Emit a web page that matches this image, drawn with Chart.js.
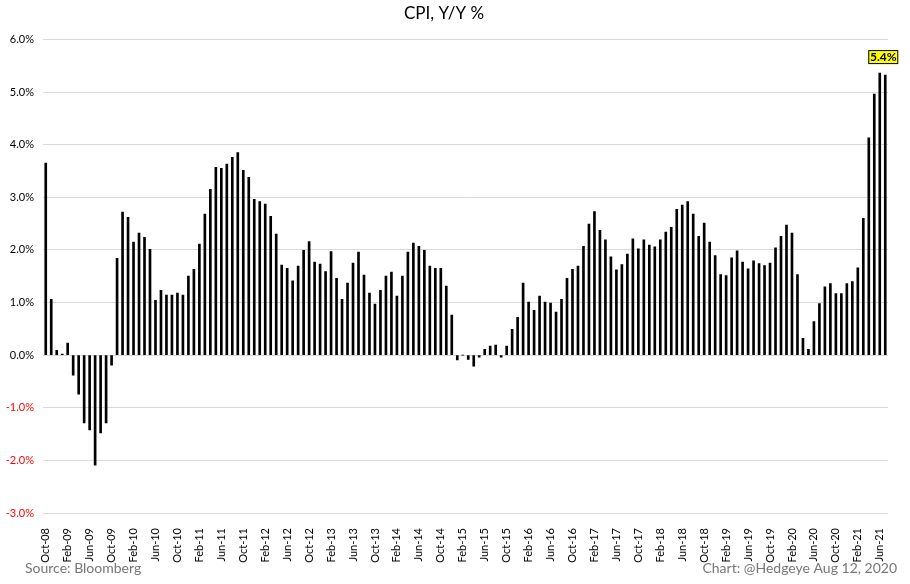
<!DOCTYPE html>
<html>
<head>
<meta charset="utf-8">
<script src="https://cdn.jsdelivr.net/npm/chart.js@4"></script>
<style>
  html, body { margin: 0; padding: 0; background: #fff; }
  #wrap { width: 910px; height: 584px; }
</style>
</head>
<body>
<div id="wrap"><canvas id="cpiChart" width="910" height="584"></canvas></div>
<script>
// --- DATA ---
const monthNames = ['Jan','Feb','Mar','Apr','May','Jun','Jul','Aug','Sep','Oct','Nov','Dec'];
const firstMonth = { year: 2008, month: 9 };   // Oct-08
const lastMonth  = { year: 2021, month: 6 };   // Jul-21

// CPI Y/Y %, monthly, Oct-08 .. Jul-21
const cpiYoY = [
  3.65, 1.06, 0.09,                                                       // 2008
  0.02, 0.23, -0.38, -0.74, -1.29, -1.42, -2.09, -1.48, -1.29, -0.19, 1.84, 2.72,   // 2009
  2.62, 2.15, 2.32, 2.24, 2.01, 1.04, 1.23, 1.14, 1.14, 1.18, 1.14, 1.50,           // 2010
  1.63, 2.11, 2.68, 3.15, 3.57, 3.55, 3.63, 3.76, 3.85, 3.51, 3.38, 2.96,           // 2011
  2.92, 2.87, 2.64, 2.30, 1.71, 1.65, 1.41, 1.69, 1.99, 2.16, 1.77, 1.73,           // 2012
  1.59, 1.97, 1.46, 1.06, 1.37, 1.75, 1.96, 1.52, 1.18, 0.97, 1.23, 1.50,           // 2013
  1.58, 1.12, 1.50, 1.96, 2.13, 2.07, 1.99, 1.69, 1.65, 1.65, 1.31, 0.76,           // 2014
  -0.09, 0.00, -0.08, -0.21, -0.04, 0.11, 0.17, 0.19, -0.04, 0.17, 0.49, 0.72,      // 2015
  1.37, 1.01, 0.85, 1.12, 1.01, 0.99, 0.82, 1.06, 1.46, 1.63, 1.69, 2.07,           // 2016
  2.49, 2.73, 2.37, 2.19, 1.87, 1.62, 1.72, 1.92, 2.21, 2.02, 2.19, 2.09,           // 2017
  2.06, 2.19, 2.34, 2.43, 2.77, 2.85, 2.92, 2.68, 2.26, 2.51, 2.15, 1.89,           // 2018
  1.53, 1.51, 1.85, 1.98, 1.77, 1.64, 1.79, 1.74, 1.70, 1.75, 2.04, 2.26,           // 2019
  2.47, 2.32, 1.53, 0.32, 0.11, 0.64, 0.98, 1.30, 1.36, 1.17, 1.17, 1.36,           // 2020
  1.40, 1.66, 2.60, 4.13, 4.96, 5.36, 5.32                                          // 2021
];

const yMin = -3, yMax = 6, yStep = 1;
const labelEvery = 4;                 // Oct-08, Feb-09, Jun-09 ...
const calloutMonth = 'Jun-21';
const calloutText = '5.4%';

const titleText = 'CPI, Y/Y %';
const sourceText = 'Source: Bloomberg';
const creditText = 'Chart: @Hedgeye Aug 12, 2020';

// build month labels "Oct-08" ...
const months = [];
for (let y = firstMonth.year, m = firstMonth.month; y < lastMonth.year || (y === lastMonth.year && m <= lastMonth.month); ) {
    months.push(monthNames[m] + '-' + String(y).slice(2));
    m++;
    if (m > 11) { m = 0; y++; }
}

const FONT = 'Lato, "Open Sans", sans-serif';

// --- PLUGINS ---
// yellow callout above the peak bar
const calloutPlugin = {
    id: 'callout',
    afterDatasetsDraw(chart) {
        const idx = months.indexOf(calloutMonth);
        const bar = chart.getDatasetMeta(0).data[idx];
        if (!bar) return;
        const ctx = chart.ctx;
        const w = 30, h = 14;
        const cx = bar.x + 3.5;
        const bottom = bar.y - 9;
        ctx.save();
        ctx.fillStyle = '#ffff00';
        ctx.strokeStyle = '#000';
        ctx.lineWidth = 1;
        ctx.fillRect(cx - w / 2, bottom - h, w, h);
        ctx.strokeRect(cx - w / 2 + 0.5, bottom - h + 0.5, w - 1, h - 1);
        ctx.fillStyle = '#000';
        ctx.font = 'bold 12px ' + FONT;
        ctx.textAlign = 'center';
        ctx.textBaseline = 'middle';
        ctx.fillText(calloutText, cx, bottom - h / 2 + 0.5);
        ctx.restore();
    }
};

// source / credit footer
const footerPlugin = {
    id: 'footer',
    afterDraw(chart) {
        const ctx = chart.ctx;
        ctx.save();
        ctx.font = '14px ' + FONT;
        ctx.fillStyle = '#767676';
        ctx.textBaseline = 'middle';
        ctx.textAlign = 'left';
        ctx.fillText(sourceText, 25, 568);
        ctx.textAlign = 'right';
        ctx.fillText(creditText, 897, 568);
        ctx.restore();
    }
};

// --- CHART ---
new Chart(document.getElementById('cpiChart'), {
    type: 'bar',
    data: {
        labels: months,
        datasets: [{
            data: cpiYoY,
            backgroundColor: '#000',
            barThickness: 2
        }]
    },
    options: {
        responsive: false,
        animation: false,
        layout: { padding: { left: 0, right: 22, top: 0, bottom: 0 } },
        plugins: {
            legend: { display: false },
            tooltip: { enabled: false },
            title: {
                display: true,
                text: titleText,
                color: '#000',
                font: { family: FONT, size: 17, weight: 'normal' },
                padding: { top: 3, bottom: 16 }
            }
        },
        scales: {
            y: {
                min: yMin,
                max: yMax,
                ticks: {
                    stepSize: yStep,
                    padding: 9,
                    font: { family: FONT, size: 11 },
                    color: c => c.tick.value < 0 ? '#ff0000' : '#000',
                    callback: v => v.toFixed(1) + '%'
                },
                grid: { color: '#d9d9d9', drawTicks: false },
                border: { display: false },
                afterFit: s => { s.width = 43; }
            },
            x: {
                grid: { display: false },
                border: { display: false },
                ticks: {
                    autoSkip: false,
                    minRotation: 90,
                    maxRotation: 90,
                    padding: 7,
                    font: { family: FONT, size: 11 },
                    color: '#000',
                    callback: (v, i) => i % labelEvery === 0 ? months[i] : ''
                },
                afterFit: s => { s.height = 71; }
            }
        }
    },
    plugins: [calloutPlugin, footerPlugin]
});
</script>
</body>
</html>
